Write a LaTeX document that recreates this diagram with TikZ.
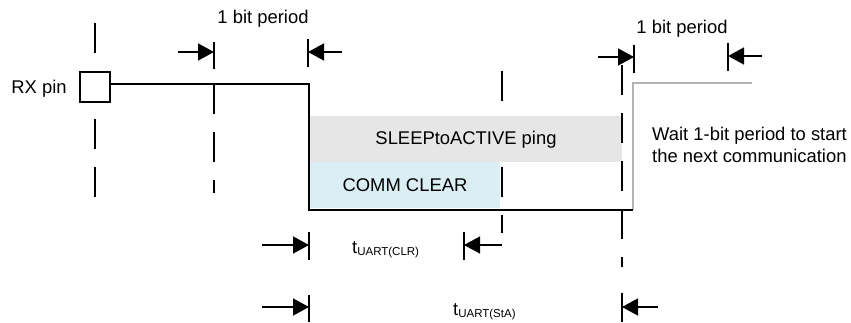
\documentclass[tikz,border=0pt]{standalone}
\usepackage{fontspec}
\setmainfont{Liberation Sans}
\usetikzlibrary{arrows.meta}
\definecolor{pinggray}{HTML}{E6E6E6}
\definecolor{clearblue}{HTML}{DAEEF3}
\definecolor{sigray}{HTML}{B3B3B3}
\tikzset{
  signal/.style={line width=2.6pt, line join=miter},
  graysignal/.style={line width=2.6pt, draw=sigray, line join=miter},
  ext/.style={line width=1.7pt, dash pattern=on 30pt off 18pt},
  tickline/.style={line width=1.8pt},
  dimarrow/.style={line width=1.5pt, -{Triangle[length=16pt,width=17pt]}},
  lbl/.style={inner sep=0pt, anchor=base}
}
\newcommand{\subfont}{\fontsize{11.5}{12}\selectfont}
\begin{document}
\begin{tikzpicture}[x=1pt,y=-1pt,font=\fontsize{18.4}{22}\selectfont]
\useasboundingbox (0,0) rectangle (851,322);
% extension line hidden partly by the ping box
\draw[ext] (502,71) -- (502,233);
% boxes
\fill[pinggray] (310,116) rectangle (622,162);
\fill[clearblue] (310,162) rectangle (500,208);
\node[lbl] (ping) at (466,144) {SLEEPtoACTIVE ping};
\node[lbl] (clear) at (405,191) {COMM CLEAR};
% other extension lines
\draw[ext] (95,23) -- (95,198);
\draw[ext] (214,84) -- (214,193);
\draw[ext] (622,65) -- (622,267);
% pin box
\node[draw, line width=1.5pt, fill=white, minimum size=30pt, inner sep=0pt] (pin) at (95,87) {};
\node[lbl] (rx) at (39,93) {RX pin};
% signal
\coordinate (s0) at (110,84);
\coordinate (s1) at (309,84);
\coordinate (s2) at (309,210);
\coordinate (s3) at (633,210);
\coordinate (s4) at (633,83);
\coordinate (s5) at (752,83);
\draw[graysignal] (s3) -- (s4) -- (s5);
\draw[signal] (s0) -- (s1) -- (s2) -- (s3);
% top-left 1 bit period
\node[lbl] (bit1) at (263,23) {1 bit period};
\draw[tickline] (214,42) -- (214,69);
\draw[tickline] (308,39) -- (308,67);
\coordinate (a1s) at (178,52); \coordinate (a1e) at (214,52);
\coordinate (a2s) at (342,52); \coordinate (a2e) at (308,52);
\draw[dimarrow] (a1s) -- (a1e);
\draw[dimarrow] (a2s) -- (a2e);
% top-right 1 bit period
\node[lbl] (bit2) at (682,33) {1 bit period};
\draw[tickline] (634,45) -- (634,73);
\draw[tickline] (728,43) -- (728,71);
\coordinate (a3s) at (598,57); \coordinate (a3e) at (634,57);
\coordinate (a4s) at (762,56); \coordinate (a4e) at (728,56);
\draw[dimarrow] (a3s) -- (a3e);
\draw[dimarrow] (a4s) -- (a4e);
% wait text
\node[lbl, anchor=base west] (wait1) at (652,140) {Wait 1-bit period to start};
\node[lbl, anchor=base west] (wait2) at (652,162) {the next communication};
% t_UART(CLR)
\draw[tickline] (309,232) -- (309,260);
\draw[tickline] (464,232) -- (464,260);
\coordinate (b1s) at (262,245); \coordinate (b1e) at (309,245);
\coordinate (b2s) at (502,245); \coordinate (b2e) at (464,245);
\draw[dimarrow] (b1s) -- (b1e);
\draw[dimarrow] (b2s) -- (b2e);
\node[lbl, anchor=base west] (tclr) at (352,253) {t\raisebox{-2pt}{\subfont UART(CLR)}};
% t_UART(StA)
\draw[tickline] (309,295) -- (309,322);
\draw[tickline] (622,293) -- (622,322);
\coordinate (c1s) at (262,307); \coordinate (c1e) at (309,307);
\coordinate (c2s) at (658,307); \coordinate (c2e) at (622,307);
\draw[dimarrow] (c1s) -- (c1e);
\draw[dimarrow] (c2s) -- (c2e);
\node[lbl, anchor=base west] (tsta) at (453,315) {t\raisebox{-2pt}{\subfont UART(StA)}};
\end{tikzpicture}
\end{document}
